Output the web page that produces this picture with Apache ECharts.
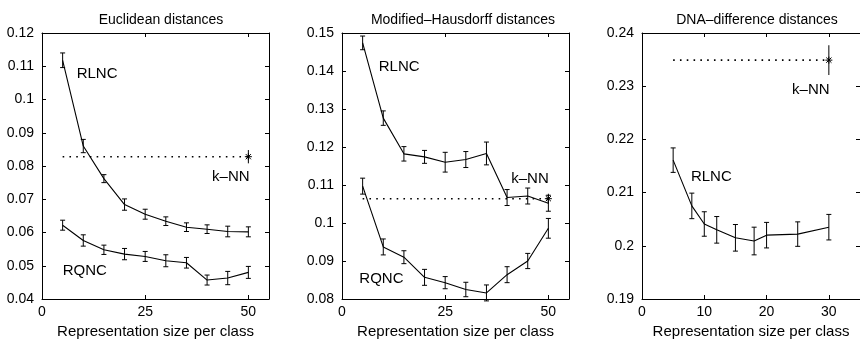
<!DOCTYPE html>
<html><head><meta charset="utf-8">
<script src="https://cdn.jsdelivr.net/npm/echarts@6/dist/echarts.min.js"></script>
<style>html,body{margin:0;padding:0;background:#fff}#c{width:860px;height:344px}</style>
</head><body><div id="c"></div>
<script>
// ---------- data ----------
const titles = ['Euclidean distances', 'Modified\u2013Hausdorff distances', 'DNA\u2013difference distances'];
const xName = 'Representation size per class';

const eucX = [5, 10, 15, 20, 25, 30, 35, 40, 45, 50];
const eucRLNC = [0.1118, 0.0860, 0.0762, 0.0684, 0.0655, 0.0634, 0.0616, 0.0610, 0.0603, 0.0602];
const eucRLNCErr = [0.0022, 0.0020, 0.0012, 0.0017, 0.0015, 0.0013, 0.0013, 0.0013, 0.0016, 0.0015];
const eucRQNC = [0.0622, 0.0576, 0.0548, 0.0535, 0.0528, 0.0515, 0.0509, 0.0457, 0.0463, 0.0480];
const eucRQNCErr = [0.0015, 0.0017, 0.0014, 0.0017, 0.0015, 0.0018, 0.0016, 0.0015, 0.0020, 0.0018];
const eucKNN = [0.0828];
const eucKNNErr = [0.0020];

const mhX = [5, 10, 15, 20, 25, 30, 35, 40, 45, 50];
const mhRLNC = [0.1474, 0.1276, 0.1182, 0.1174, 0.1160, 0.1167, 0.1183, 0.1067, 0.1071, 0.1052];
const mhRLNCErr = [0.0018, 0.0019, 0.0019, 0.0017, 0.0026, 0.0021, 0.0030, 0.0021, 0.0021, 0.0021];
const mhRQNC = [0.1097, 0.0937, 0.0910, 0.0857, 0.0843, 0.0825, 0.0816, 0.0864, 0.0900, 0.0986];
const mhRQNCErr = [0.0021, 0.0021, 0.0017, 0.0021, 0.0016, 0.0019, 0.0021, 0.0021, 0.0020, 0.0026];
const mhKNN = [0.1064];
const mhKNNErr = [0.0013];

const dnaX = [5, 8, 10, 12, 15, 18, 20, 25, 30];
const dnaRLNC = [0.2161, 0.2075, 0.2041, 0.2030, 0.2015, 0.2009, 0.2020, 0.2022, 0.2035];
const dnaRLNCErr = [0.0023, 0.0024, 0.0023, 0.0025, 0.0025, 0.0026, 0.0024, 0.0023, 0.0024];
const dnaKNN = [0.2349];
const dnaKNNErr = [0.0028];

const yTicks = [
  {min: 0.04, max: 0.12, interval: 0.01},
  {min: 0.08, max: 0.15, interval: 0.01},
  {min: 0.19, max: 0.24, interval: 0.01}
];
const xTicks = [
  {min: 0, max: 55, interval: 25},
  {min: 0, max: 55, interval: 25},
  {min: 0, max: 35, interval: 10}
];

// ---------- layout / style ----------
const FONT = 'Liberation Sans, Arial, Helvetica, sans-serif';
const grids = [
  {left: 42, top: 33, width: 227, height: 273},
  {left: 342, top: 33, width: 227, height: 273},
  {left: 642, top: 33, width: 226, height: 273}
];

function errRender(capW) {
  return function (params, api) {
    const x = api.value(0), lo = api.value(1), hi = api.value(2);
    const a = api.coord([x, lo]), b = api.coord([x, hi]);
    const st = {stroke: '#000', lineWidth: 1};
    const ch = [{type: 'line', shape: {x1: a[0], y1: a[1], x2: b[0], y2: b[1]}, style: st}];
    if (capW > 0) {
      ch.push({type: 'line', shape: {x1: a[0] - capW, y1: a[1], x2: a[0] + capW, y2: a[1]}, style: st});
      ch.push({type: 'line', shape: {x1: b[0] - capW, y1: b[1], x2: b[0] + capW, y2: b[1]}, style: st});
    }
    return {type: 'group', children: ch};
  };
}
function starRender(params, api) {
  const p = api.coord([api.value(0), api.value(1)]);
  const r = 3.5, d = 2.6;
  const st = {stroke: '#000', lineWidth: 1};
  return {type: 'group', children: [
    {type: 'line', shape: {x1: p[0] - r, y1: p[1], x2: p[0] + r, y2: p[1]}, style: st},
    {type: 'line', shape: {x1: p[0], y1: p[1] - r, x2: p[0], y2: p[1] + r}, style: st},
    {type: 'line', shape: {x1: p[0] - d, y1: p[1] - d, x2: p[0] + d, y2: p[1] + d}, style: st},
    {type: 'line', shape: {x1: p[0] - d, y1: p[1] + d, x2: p[0] + d, y2: p[1] - d}, style: st}
  ]};
}
function textRender(labels) {
  return function (params, api) {
    const p = api.coord([api.value(0), api.value(1)]);
    return {type: 'text', x: p[0], y: p[1], style: {text: labels[params.dataIndex], fill: '#000',
      font: '15px ' + FONT, textAlign: 'left', textVerticalAlign: 'middle'}};
  };
}

const xAxes = [], yAxes = [];
grids.forEach((g, i) => {
  const common = {gridIndex: i, type: 'value', splitLine: {show: false},
    axisLine: {show: true, onZero: false, lineStyle: {color: '#000', width: 1}},
    axisTick: {show: true, inside: true, length: 4, lineStyle: {color: '#000'}}};
  xAxes.push(Object.assign({}, common, xTicks[i], {position: 'bottom',
    axisLabel: {color: '#000', fontSize: 14, fontFamily: FONT, margin: 6, showMaxLabel: false},
    name: xName, nameLocation: 'middle', nameGap: 25,
    nameTextStyle: {color: '#000', fontSize: 15, fontFamily: FONT}}));
  xAxes.push(Object.assign({}, common, xTicks[i], {position: 'top', axisLabel: {show: false}}));
  yAxes.push(Object.assign({}, common, yTicks[i], {position: 'left',
    axisLabel: {color: '#000', fontSize: 14, fontFamily: FONT, margin: 8}}));
  yAxes.push(Object.assign({}, common, yTicks[i], {position: 'right', axisLabel: {show: false}}));
});

function zip(xs, ys) { return xs.map((x, k) => [x, ys[k]]); }
function errData(xs, ys, es) { return xs.map((x, k) => [x, ys[k] - es[k], ys[k] + es[k]]); }

const series = [];
function addCurve(i, xs, ys, es) {
  series.push({type: 'line', xAxisIndex: 2 * i, yAxisIndex: 2 * i, data: zip(xs, ys),
    symbol: 'none', lineStyle: {color: '#000', width: 1.1}, silent: true, animation: false});
  series.push({type: 'custom', xAxisIndex: 2 * i, yAxisIndex: 2 * i, data: errData(xs, ys, es),
    renderItem: errRender(2.5), encode: {x: 0, y: [1, 2]}, silent: true, animation: false});
}
function addKNN(i, x0, x1, v, e) {
  series.push({type: 'line', xAxisIndex: 2 * i, yAxisIndex: 2 * i, data: [[x0, v[0]], [x1, v[0]]],
    symbol: 'none', lineStyle: {color: '#000', width: 1.6, type: [1.6, 5.2]}, silent: true, animation: false});
  series.push({type: 'custom', xAxisIndex: 2 * i, yAxisIndex: 2 * i, data: errData([x1], v, e),
    renderItem: errRender(0), encode: {x: 0, y: [1, 2]}, silent: true, animation: false});
  series.push({type: 'custom', xAxisIndex: 2 * i, yAxisIndex: 2 * i, data: [[x1, v[0]]],
    renderItem: starRender, encode: {x: 0, y: 1}, silent: true, animation: false});
}
function addLabels(i, labels, anchors) {
  series.push({type: 'custom', xAxisIndex: 2 * i, yAxisIndex: 2 * i, data: anchors,
    renderItem: textRender(labels), encode: {x: 0, y: 1}, silent: true, animation: false});
}

addCurve(0, eucX, eucRLNC, eucRLNCErr);
addCurve(0, eucX, eucRQNC, eucRQNCErr);
addKNN(0, eucX[0], eucX[eucX.length - 1], eucKNN, eucKNNErr);
addLabels(0, ['RLNC', 'RQNC', 'k\u2013NN'], [[8.4, 0.1077], [5.0, 0.0484], [41.2, 0.0766]]);

addCurve(1, mhX, mhRLNC, mhRLNCErr);
addCurve(1, mhX, mhRQNC, mhRQNCErr);
addKNN(1, mhX[0], mhX[mhX.length - 1], mhKNN, mhKNNErr);
addLabels(1, ['RLNC', 'RQNC', 'k\u2013NN'], [[8.9, 0.1410], [4.2, 0.0854], [41.0, 0.1115]]);

addCurve(2, dnaX, dnaRLNC, dnaRLNCErr);
addKNN(2, dnaX[0], dnaX[dnaX.length - 1], dnaKNN, dnaKNNErr);
addLabels(2, ['RLNC', 'k\u2013NN'], [[7.85, 0.2129], [24.1, 0.2293]]);

const titleCenters = [156, 458, 752];
const option = {
  backgroundColor: '#fff',
  animation: false,
  title: titles.map((t, i) => ({text: t, left: titleCenters[i], top: 8, textAlign: 'center',
    textStyle: {color: '#000', fontSize: 14, fontWeight: 'normal', fontFamily: FONT}})),
  grid: grids.map(g => Object.assign({containLabel: false}, g)),
  xAxis: xAxes,
  yAxis: yAxes,
  series: series
};
const chart = echarts.init(document.getElementById('c'), null, {renderer: 'canvas'});
chart.setOption(option);
</script>
</body></html>
